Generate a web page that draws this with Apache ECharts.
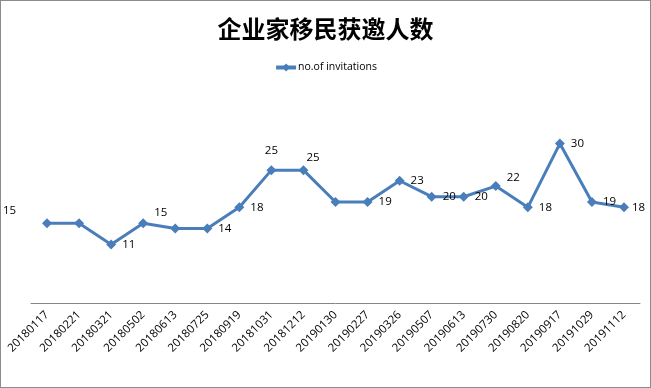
<!DOCTYPE html>
<html><head><meta charset="utf-8">
<script src="https://cdn.jsdelivr.net/npm/echarts@6/dist/echarts.min.js"></script>
<style>
html,body{margin:0;padding:0;background:#fff;}
#wrap{position:absolute;left:0;top:0;width:649px;height:386px;border:1px solid #8c8c8c;}
#c{width:651px;height:388px;position:absolute;left:-1px;top:-1px;}
</style></head>
<body><div id="wrap"><div id="c"></div></div>
<script>
const titleText = '企业家移民获邀人数';
const seriesName = 'no.of invitations';
const categories = ['20180117','20180221','20180321','20180502','20180613','20180725','20180919','20181031','20181212','20190130','20190227','20190326','20190507','20190613','20190730','20190820','20190917','20191029','20191112'];
const values = [15,15,11,15,14,14,18,25,25,19,19,23,20,20,22,18,30,19,18];
const hiddenLabels = [1,4,9];

const labelOverrides = {
  0: {position:'left', offset:[-20,-13]},
  3: {position:'right', offset:[0,-11]},
  7: {position:'top', offset:[0,-2]},
  8: {position:'right', offset:[-8,-12]},
  14: {position:'right', offset:[0,-8]},
  18: {position:'right', offset:[-3,0]}
};

const data = values.map((v,i)=>{
  const item = {value:v};
  if (hiddenLabels.includes(i)) item.label = {show:false};
  else if (labelOverrides[i]) item.label = labelOverrides[i];
  return item;
});

const chart = echarts.init(document.getElementById('c'), null, {renderer:'canvas'});
chart.setOption({
  animation:false,
  backgroundColor:'transparent',
  title:{text:titleText,left:'center',top:12,textStyle:{fontFamily:'Noto Sans CJK SC',fontSize:24,fontWeight:'bold',color:'#000'}},
  legend:{top:57,left:'center',itemWidth:20,itemHeight:10,itemGap:5,
    data:[seriesName],
    lineStyle:{width:4,color:'#4A7EBB'},
    itemStyle:{color:'#4A7EBB'},
    textStyle:{fontFamily:'Open Sans',fontSize:10.5,color:'#000',padding:[0,0,0,-3]}},
  grid:{left:31,right:11,top:117,bottom:85},
  xAxis:{type:'category',data:categories,boundaryGap:true,
    axisLine:{lineStyle:{color:'#868686',width:1}},axisTick:{show:false},
    axisLabel:{rotate:45,interval:0,margin:10,fontFamily:'Open Sans',fontSize:11.5,color:'#000'}},
  yAxis:{type:'value',min:0,max:35,show:false,splitLine:{show:false}},
  series:[{name:seriesName,type:'line',data:data,
    lineStyle:{color:'#4A7EBB',width:3},
    itemStyle:{color:'#4A7EBB'},
    symbol:'diamond',symbolSize:10,
    label:{show:true,position:'right',distance:6,fontFamily:'Open Sans',fontSize:11.5,color:'#000'}}]
});
</script></body></html>
